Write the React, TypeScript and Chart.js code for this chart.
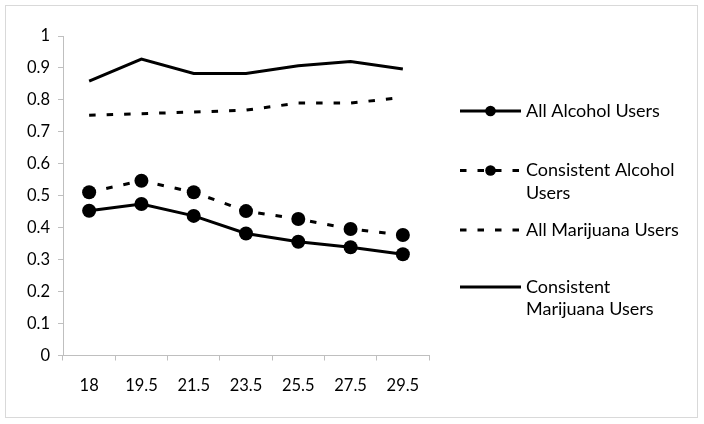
import React, { useEffect, useRef } from "react";
import { Chart, registerables } from "chart.js";

Chart.register(...registerables);

const categories = ["18", "19.5", "21.5", "23.5", "25.5", "27.5", "29.5"];
const allAlcohol = [0.453, 0.474, 0.437, 0.382, 0.356, 0.339, 0.317];
const consistentAlcohol = [0.511, 0.547, 0.511, 0.452, 0.427, 0.396, 0.377];
const allMarijuana = [0.752, 0.757, 0.762, 0.768, 0.79, 0.79, 0.808];
const consistentMarijuana = [0.859, 0.928, 0.883, 0.883, 0.907, 0.92, 0.897];
const seriesNames = [
  "All Alcohol Users",
  "Consistent Alcohol Users",
  "All Marijuana Users",
  "Consistent Marijuana Users",
];
const legendLines = [
  ["All Alcohol Users"],
  ["Consistent Alcohol", "Users"],
  ["All Marijuana Users"],
  ["Consistent", "Marijuana Users"],
];

const FONT = "Lato, 'Open Sans', sans-serif";
const DASH = [6.5, 11];

const borderPlugin = {
  id: "outerBorder",
  beforeDraw(chart: any) {
    const ctx = chart.ctx;
    ctx.save();
    ctx.fillStyle = "#ffffff";
    ctx.fillRect(0, 0, chart.width, chart.height);
    ctx.strokeStyle = "#d9d9d9";
    ctx.lineWidth = 1;
    ctx.strokeRect(5.5, 5.5, 692, 412);
    ctx.restore();
  },
};

const legendPlugin = {
  id: "sideLegend",
  afterDraw(chart: any) {
    const ctx = chart.ctx;
    const rows = [111, 170.5, 230, 287];
    const lineH = 22.5;
    const x0 = 460;
    const x1 = 521;
    ctx.save();
    chart.data.datasets.forEach((ds: any, i: number) => {
      const y = rows[i];
      ctx.beginPath();
      ctx.strokeStyle = ds.borderColor;
      ctx.lineWidth = ds.borderWidth;
      ctx.setLineDash(ds.borderDash || []);
      ctx.moveTo(x0, y);
      ctx.lineTo(x1, y);
      ctx.stroke();
      ctx.setLineDash([]);
      if (ds.pointRadius > 0) {
        ctx.beginPath();
        ctx.fillStyle = ds.pointBackgroundColor;
        ctx.arc((x0 + x1) / 2, y, 5.3, 0, Math.PI * 2);
        ctx.fill();
      }
      ctx.fillStyle = "#000";
      ctx.font = `18px ${FONT}`;
      ctx.textBaseline = "middle";
      ctx.textAlign = "left";
      legendLines[i].forEach((t, j) => {
        ctx.fillText(t, 526, y + j * lineH);
      });
    });
    ctx.restore();
  },
};

export default function App() {
  const ref = useRef<HTMLCanvasElement>(null);

  useEffect(() => {
    document.body.style.margin = "0";
    const canvas = ref.current;
    if (!canvas) return;
    const mk = (label: string, data: number[], dashed: boolean, markers: boolean) => ({
      label,
      data,
      borderColor: "#000000",
      backgroundColor: "#000000",
      borderWidth: 3,
      borderDash: dashed ? DASH : [],
      pointRadius: markers ? 7 : 0,
      pointHoverRadius: markers ? 7 : 0,
      pointBackgroundColor: "#000000",
      pointBorderColor: "#000000",
      pointBorderWidth: 0,
      tension: 0,
      fill: false,
    });
    const chart = new Chart(canvas, {
      type: "line",
      data: {
        labels: categories,
        datasets: [
          mk(seriesNames[0], allAlcohol, false, true),
          mk(seriesNames[1], consistentAlcohol, true, true),
          mk(seriesNames[2], allMarijuana, true, false),
          mk(seriesNames[3], consistentMarijuana, false, false),
        ],
      },
      options: {
        animation: false,
        responsive: false,
        devicePixelRatio: 1,
        layout: { padding: { left: 0, top: 36, right: 275, bottom: 28.5 } },
        plugins: { legend: { display: false }, tooltip: { enabled: false } },
        scales: {
          x: {
            type: "category",
            offset: true,
            grid: {
              offset: true,
              drawOnChartArea: false,
              tickLength: 5,
              color: "#bfbfbf",
            },
            border: { color: "#bfbfbf" },
            ticks: {
              padding: 15,
              color: "#000",
              font: { family: FONT, size: 16.5 },
              maxRotation: 0,
            },
            afterFit(scale: any) {
              scale.height = 40;
            },
          },
          y: {
            min: 0,
            max: 1,
            grid: {
              drawOnChartArea: false,
              tickLength: 5,
              color: "#bfbfbf",
            },
            border: { color: "#bfbfbf" },
            ticks: {
              stepSize: 0.1,
              padding: 8,
              color: "#000",
              font: { family: FONT, size: 16.5 },
              callback: (v: any) => String(Number(Number(v).toFixed(1))),
            },
            afterFit(scale: any) {
              scale.width = 63;
            },
          },
        },
      },
      plugins: [borderPlugin, legendPlugin],
    });
    return () => chart.destroy();
  }, []);

  return (
    <div style={{ width: 704, height: 424 }}>
      <canvas ref={ref} width={704} height={424} style={{ display: "block" }} />
    </div>
  );
}
